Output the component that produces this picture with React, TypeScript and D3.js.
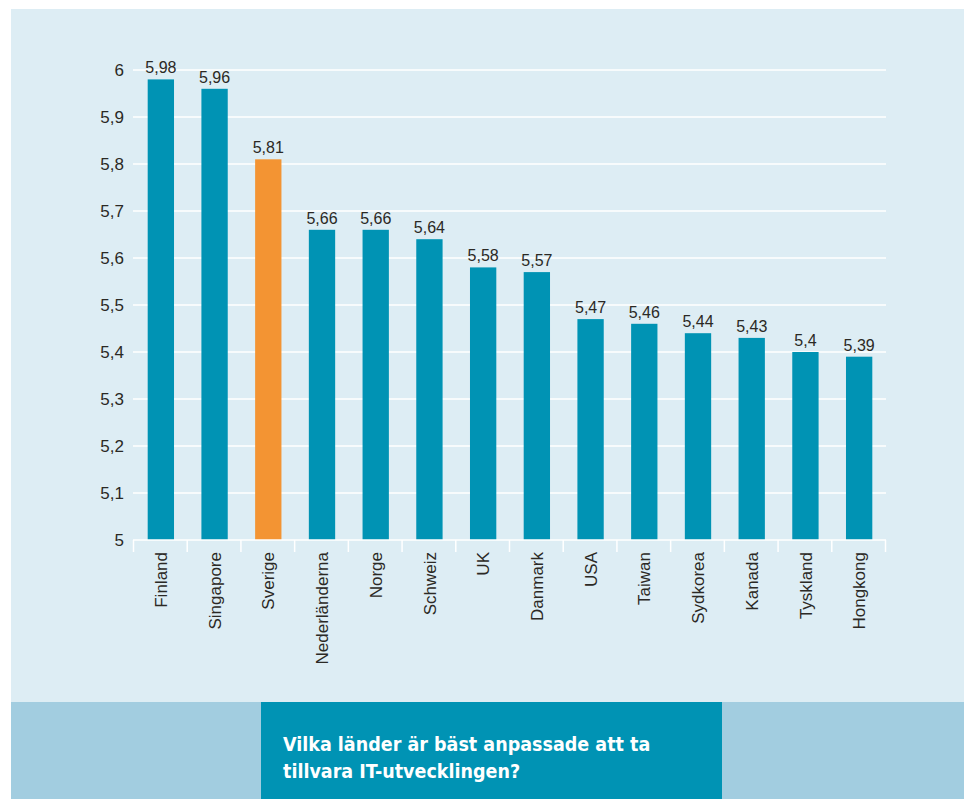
import { useRef, useEffect } from "react";
import * as d3 from "d3";

const countries = [
  "Finland",
  "Singapore",
  "Sverige",
  "Nederländerna",
  "Norge",
  "Schweiz",
  "UK",
  "Danmark",
  "USA",
  "Taiwan",
  "Sydkorea",
  "Kanada",
  "Tyskland",
  "Hongkong",
];
const scores = [5.98, 5.96, 5.81, 5.66, 5.66, 5.64, 5.58, 5.57, 5.47, 5.46, 5.44, 5.43, 5.4, 5.39];
const yTicks = [5, 5.1, 5.2, 5.3, 5.4, 5.5, 5.6, 5.7, 5.8, 5.9, 6];
const highlight = "Sverige";
const titleLines = ["Vilka länder är bäst anpassade att ta", "tillvara IT-utvecklingen?"];

const BG = "#ddedf4";
const TEAL = "#0093b4";
const ORANGE = "#f39433";
const BAND = "#a2cde0";
const TEXT = "#2b2925";
const FONT = "Helvetica, Arial, 'Liberation Sans', sans-serif";

const fmt = (v: number) => String(v).replace(".", ",");

export default function App() {
  const svgRef = useRef<SVGSVGElement>(null);

  useEffect(() => {
    if (!svgRef.current) return;
    const W = 964;
    const H = 799;
    const svg = d3.select(svgRef.current);
    svg.selectAll("*").remove();
    svg.attr("width", W).attr("height", H);

    svg.append("rect").attr("width", W).attr("height", H).attr("fill", "#ffffff");
    svg.append("rect").attr("x", 11).attr("y", 9).attr("width", W - 11).attr("height", 693).attr("fill", BG);

    const x = d3.scaleBand().domain(countries).range([134, 886]).paddingInner(0.51).paddingOuter(0.255);
    const y = d3.scaleLinear().domain([5, 6]).range([540, 70]);

    // grid
    svg
      .append("g")
      .selectAll("line")
      .data(yTicks.slice(1))
      .enter()
      .append("line")
      .attr("x1", 133)
      .attr("x2", 886)
      .attr("y1", (d) => y(d))
      .attr("y2", (d) => y(d))
      .attr("stroke", "#ffffff")
      .attr("stroke-width", 1.5);

    // y labels
    svg
      .append("g")
      .selectAll("text")
      .data(yTicks)
      .enter()
      .append("text")
      .attr("x", 124)
      .attr("y", (d) => y(d))
      .attr("dy", "0.36em")
      .attr("text-anchor", "end")
      .style("font-family", FONT)
      .style("font-size", "17px")
      .style("fill", TEXT)
      .text((d) => (d === 5 || d === 6 ? String(d) : d.toFixed(1).replace(".", ",")));

    // bars
    svg
      .append("g")
      .selectAll("rect")
      .data(countries)
      .enter()
      .append("rect")
      .attr("x", (d) => x(d)!)
      .attr("y", (_, i) => y(scores[i]))
      .attr("width", x.bandwidth())
      .attr("height", (_, i) => y(5) - y(scores[i]))
      .attr("fill", (d) => (d === highlight ? ORANGE : TEAL));

    // value labels
    svg
      .append("g")
      .selectAll("text")
      .data(countries)
      .enter()
      .append("text")
      .attr("x", (d) => x(d)! + x.bandwidth() / 2)
      .attr("y", (_, i) => y(scores[i]) - 6)
      .attr("text-anchor", "middle")
      .style("font-family", FONT)
      .style("font-size", "16px")
      .style("fill", TEXT)
      .text((_, i) => fmt(scores[i]));

    // x axis
    const ax = svg.append("g");
    ax.append("line")
      .attr("x1", 133)
      .attr("x2", 886)
      .attr("y1", 540)
      .attr("y2", 540)
      .attr("stroke", "#ffffff")
      .attr("stroke-width", 1.5);
    const step = x.step();
    ax.selectAll(".tick")
      .data(d3.range(countries.length + 1))
      .enter()
      .append("line")
      .attr("x1", (i) => x(countries[0])! - step * 0.255 - 0.5 + i * step)
      .attr("x2", (i) => x(countries[0])! - step * 0.255 - 0.5 + i * step)
      .attr("y1", 540)
      .attr("y2", 552)
      .attr("stroke", "#ffffff")
      .attr("stroke-width", 1.5);
    ax.selectAll(".lbl")
      .data(countries)
      .enter()
      .append("text")
      .attr("transform", (d) => `translate(${x(d)! + x.bandwidth() / 2},552) rotate(-90)`)
      .attr("dy", "0.36em")
      .attr("text-anchor", "end")
      .style("font-family", FONT)
      .style("font-size", "17px")
      .style("fill", TEXT)
      .text((d) => d);

    // bottom band
    svg.append("rect").attr("x", 11).attr("y", 702).attr("width", W - 11).attr("height", 97).attr("fill", BAND);
    svg.append("rect").attr("x", 261).attr("y", 702).attr("width", 461).attr("height", 97).attr("fill", TEAL);
    svg
      .append("g")
      .selectAll("text")
      .data(titleLines)
      .enter()
      .append("text")
      .attr("x", 283)
      .attr("y", (_, i) => 751 + i * 27)
      .style("font-family", "'Liberation Sans Narrow', 'DejaVu Sans Condensed', Arial, sans-serif")
      .style("font-weight", "bold")
      .style("font-size", "19.5px")
      .style("fill", "#ffffff")
      .text((d) => d);
  }, []);

  return <svg ref={svgRef} style={{ position: "absolute", left: 0, top: 0 }} />;
}
